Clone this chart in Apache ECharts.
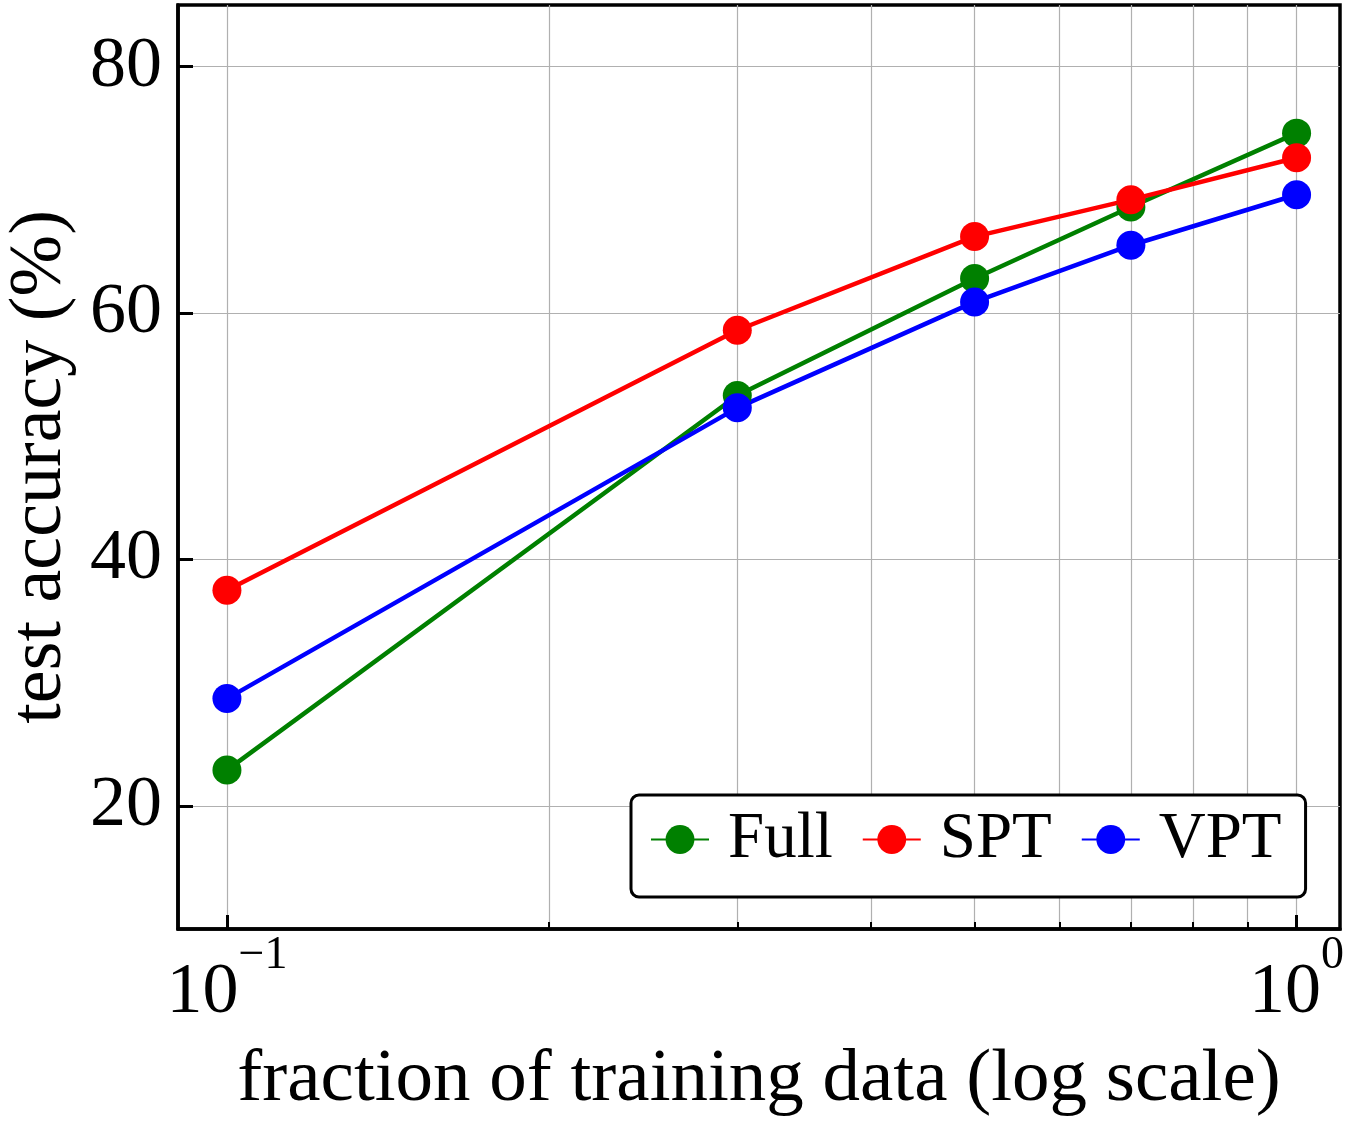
<!DOCTYPE html>
<html>
<head>
<meta charset="utf-8">
<script src="https://cdn.jsdelivr.net/npm/echarts@6/dist/echarts.min.js"></script>
<style>
  html, body { margin: 0; padding: 0; background: #fff; }
  #chart { width: 1347px; height: 1122px; }
</style>
</head>
<body>
<div id="chart"></div>
<script>
// data
var fractions = [0.1, 0.3, 0.5, 0.7, 1.0];
var fullAcc = [22.9, 53.3, 62.8, 68.6, 74.6];
var sptAcc = [37.5, 58.6, 66.2, 69.2, 72.6];
var vptAcc = [28.7, 52.3, 60.9, 65.5, 69.6];

var yTicks = [20, 40, 60, 80];
var xMajor = [0.1, 1];
var xMinor = [0.1, 0.2, 0.3, 0.4, 0.5, 0.6, 0.7, 0.8, 0.9, 1];

var font = 'Liberation Serif';

function pairs(ys) {
    return fractions.map(function (x, i) { return [x, ys[i]]; });
}

var myChart = echarts.init(document.getElementById('chart'));

var series = [
    { name: 'Full', color: '#008000', data: pairs(fullAcc) },
    { name: 'SPT', color: '#ff0000', data: pairs(sptAcc) },
    { name: 'VPT', color: '#0000ff', data: pairs(vptAcc) }
].map(function (s) {
    return {
        name: s.name,
        type: 'line',
        data: s.data,
        symbol: 'circle',
        symbolSize: 29,
        color: s.color,
        lineStyle: { color: s.color, width: 4.5 },
        itemStyle: { color: s.color, borderWidth: 0 }
    };
});

var option = {
    animation: false,
    backgroundColor: '#fff',
    grid: {
        left: 178, right: 7, top: 5, bottom: 193,
        outerBoundsMode: 'none',
        show: true,
        borderColor: '#000',
        borderWidth: 3.5
    },
    legend: {
        data: ['Full', 'SPT', 'VPT'],
        left: 631,
        top: 795,
        orient: 'horizontal',
        itemWidth: 58,
        itemHeight: 36,
        itemGap: 29,
        padding: [12, 24, 25, 19],
        backgroundColor: '#fff',
        borderColor: '#000',
        borderWidth: 3,
        borderRadius: 8,
        textStyle: {
            fontFamily: font,
            fontSize: 65,
            lineHeight: 65,
            color: '#000',
            padding: [0, 0, 0, 14]
        }
    },
    xAxis: [
        {
            type: 'log',
            logBase: 10,
            min: 0.09,
            max: 1.098,
            name: 'fraction of training data (log scale)',
            nameLocation: 'middle',
            nameGap: 114,
            nameMoveOverlap: false,
            nameTextStyle: { fontFamily: font, fontSize: 75, color: '#000' },
            axisLine: { show: true, lineStyle: { color: '#000', width: 3.5 } },
            axisTick: {
                show: true, inside: true, length: 7,
                customValues: xMinor,
                lineStyle: { color: '#000', width: 2 }
            },
            axisLabel: {
                customValues: xMajor,
                margin: 28,
                color: '#000',
                fontFamily: font,
                formatter: function (v) {
                    var e = Math.round(Math.log(v) / Math.LN10);
                    return '{b|10}{s|' + (e < 0 ? '\u2212' + (-e) : e) + '}';
                },
                rich: {
                    b: { fontFamily: font, fontSize: 72, lineHeight: 72, verticalAlign: 'bottom', color: '#000' },
                    s: { fontFamily: font, fontSize: 46, lineHeight: 46, verticalAlign: 'bottom', padding: [0, 0, 50, 0], color: '#000' }
                }
            },
            splitLine: { show: true, lineStyle: { color: '#b0b0b0', width: 1.2 } }
        },
        {
            // longer ticks at the decades
            type: 'log',
            logBase: 10,
            min: 0.09,
            max: 1.098,
            position: 'bottom',
            axisLine: { show: false },
            axisTick: {
                show: true, inside: true, length: 14,
                customValues: xMajor,
                lineStyle: { color: '#000', width: 3 }
            },
            axisLabel: { show: false },
            splitLine: { show: false }
        }
    ],
    yAxis: {
        type: 'value',
        min: 10,
        max: 85,
        name: 'test accuracy (%)',
        nameLocation: 'middle',
        nameGap: 100,
        nameMoveOverlap: false,
        nameTextStyle: { fontFamily: font, fontSize: 74, color: '#000' },
        axisLine: { show: true, lineStyle: { color: '#000', width: 3.5 } },
        axisTick: {
            show: true, inside: true, length: 15,
            customValues: yTicks,
            lineStyle: { color: '#000', width: 3 }
        },
        axisLabel: {
            customValues: yTicks,
            margin: 16,
            fontFamily: font,
            fontSize: 72,
            color: '#000'
        },
        splitLine: { show: true, lineStyle: { color: '#b0b0b0', width: 1.2 } }
    },
    series: series
};

myChart.setOption(option);
</script>
</body>
</html>
